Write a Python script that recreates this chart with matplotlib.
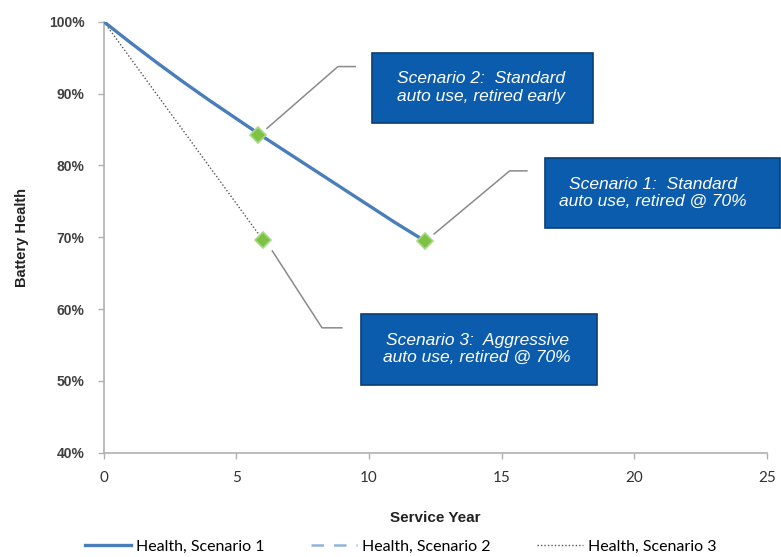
import matplotlib.pyplot as plt
from matplotlib.ticker import FuncFormatter
from matplotlib.lines import Line2D
from matplotlib.patches import Rectangle

# service years and battery health (fraction)
years_s1 = [0, 1, 2, 3, 4, 5, 6, 7, 8, 9, 10, 11, 12.1]
health_s1 = [1.000, 0.971, 0.943, 0.916, 0.890, 0.865, 0.840, 0.816, 0.792, 0.768, 0.744, 0.720, 0.695]
years_s2 = [0, 1, 2, 3, 4, 5, 5.8]
health_s2 = [1.000, 0.971, 0.943, 0.916, 0.890, 0.865, 0.845]
years_s3 = [0, 6.0]
health_s3 = [1.000, 0.696]

# retirement points
marker_x = [5.8, 12.1, 6.0]
marker_y = [0.842, 0.695, 0.696]

labels = ["Health, Scenario 1", "Health, Scenario 2", "Health, Scenario 3"]
notes = ["Scenario 2:  Standard\nauto use, retired early",
         "Scenario 1:  Standard\nauto use, retired @ 70%",
         "Scenario 3:  Aggressive\nauto use, retired @ 70%"]

fig = plt.figure(figsize=(7.81, 5.57), dpi=100)
ax = fig.add_axes([0.133, 0.187, 0.849, 0.774])

ax.plot(years_s2, health_s2, color="#8fb4d9", lw=1.8, ls=(0, (5, 4)), zorder=2)
ax.plot(years_s1, health_s1, color="#4a7ebb", lw=2.4, zorder=3)
ax.plot(years_s3, health_s3, color="#555555", lw=1.0, ls=(0, (1, 1.5)), zorder=2)
ax.plot(marker_x, marker_y, ls="none", marker="D", ms=8, mfc="#7dc242",
        mec="#a8d98a", mew=1.2, zorder=5)

ax.set_xlim(0, 25)
ax.set_ylim(0.4, 1.0)
ax.set_xticks([0, 5, 10, 15, 20, 25])
ax.set_yticks([0.4, 0.5, 0.6, 0.7, 0.8, 0.9, 1.0])
ax.yaxis.set_major_formatter(FuncFormatter(lambda v, p: f"{v * 100:.0f}%"))

for s in ["top", "right"]:
    ax.spines[s].set_visible(False)
for s in ["left", "bottom"]:
    ax.spines[s].set_color("#b0b0b0")
    ax.spines[s].set_linewidth(1.2)
ax.tick_params(axis="both", colors="#b0b0b0", length=4, width=1)
ax.tick_params(axis="y", labelsize=10, labelcolor="#404040", pad=10)
ax.tick_params(axis="x", labelsize=11, labelcolor="#333333", pad=9)
for t in ax.get_yticklabels():
    t.set_fontweight("bold")
    t.set_family("Liberation Sans")
for t in ax.get_xticklabels():
    t.set_family("Lato")

ax.set_ylabel("Battery Health", fontsize=10.5, fontweight="bold", color="#222222",
              family="Liberation Sans", labelpad=14)
ax.set_xlabel("Service Year", fontsize=11, fontweight="bold", color="#222222",
              family="Liberation Sans", labelpad=19)

# callouts: leader elbow, leader end, box (x0, y0, w, h), text centre, in axes fraction
callouts = [
    (0, (0.353, 0.896), (0.379, 0.896), (0.404, 0.766, 0.334, 0.162), (0.569, 0.847)),
    (1, (0.612, 0.654), (0.638, 0.654), (0.665, 0.522, 0.355, 0.162), (0.828, 0.603)),
    (2, (0.329, 0.290), (0.359, 0.290), (0.388, 0.158, 0.356, 0.165), (0.563, 0.241)),
]
for i, elbow, end, rect, center in callouts:
    mx, my = ax.transData.transform((marker_x[i], marker_y[i]))
    mx, my = ax.transAxes.inverted().transform((mx, my))
    sx = mx + 0.014
    sy = my + (0.016 if i < 2 else -0.025)
    ax.plot([sx, elbow[0], end[0]], [sy, elbow[1], end[1]], color="#8a8a8a",
            lw=1.1, transform=ax.transAxes, clip_on=False, zorder=4)
    ax.add_patch(Rectangle(rect[:2], rect[2], rect[3], transform=ax.transAxes,
                           fc="#0b5cad", ec="#0a3d73", lw=1.2, clip_on=False, zorder=6))
    ax.text(center[0], center[1], notes[i], transform=ax.transAxes, ha="center",
            va="center", fontsize=12.5, style="italic", color="white",
            family="Liberation Sans", linespacing=1.2, zorder=7)

handles = [
    Line2D([], [], color="#4a7ebb", lw=2.4),
    Line2D([], [], color="#8fb4d9", lw=1.8, ls=(0, (5, 4))),
    Line2D([], [], color="#555555", lw=1.0, ls=(0, (1, 1.5))),
]
fig.legend(handles, labels, loc="lower left", bbox_to_anchor=(0.09, -0.02), ncol=3,
           frameon=False, handlelength=2.9, handletextpad=0.3, columnspacing=2.9,
           prop={"family": "Lato", "size": 11.5})

fig.savefig("out.png", dpi=100)
